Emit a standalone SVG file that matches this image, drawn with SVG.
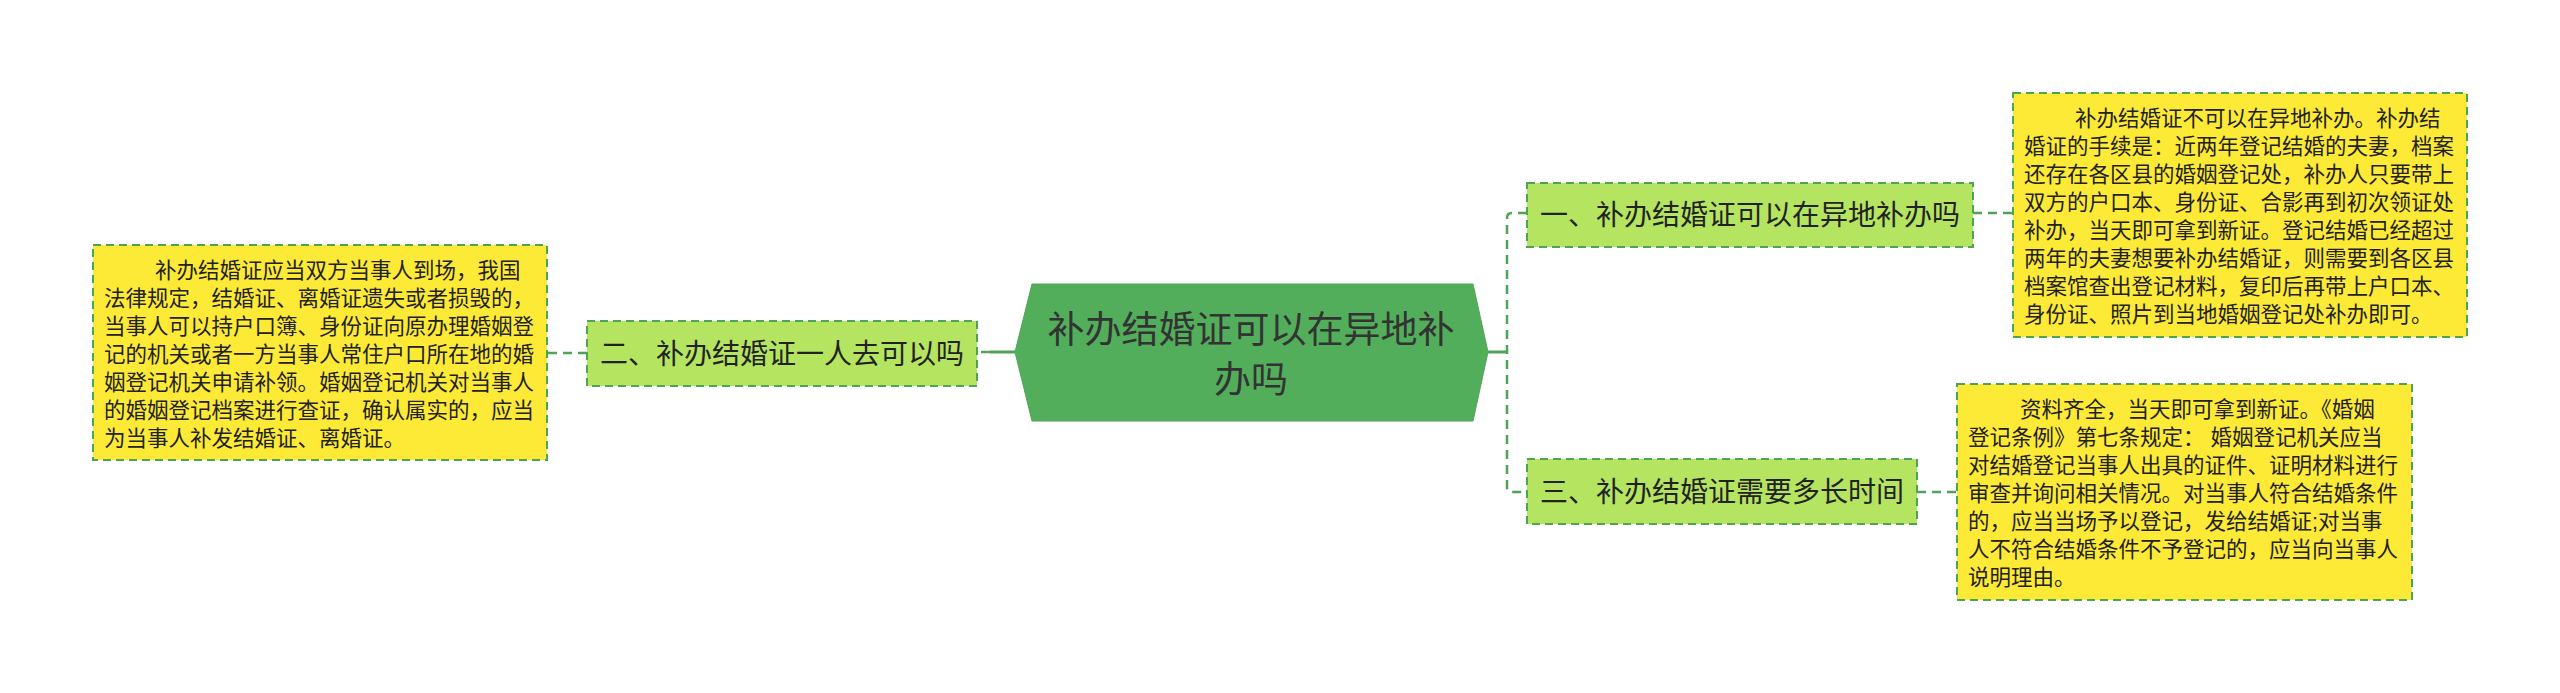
<svg xmlns="http://www.w3.org/2000/svg" width="2560" height="693" viewBox="0 0 2560 693">
<style>
.conn{fill:none;stroke:#4ea455;stroke-width:2.5;stroke-dasharray:9 6}
.solid{fill:none;stroke:#4ea455;stroke-width:3}
.branch{fill:#b5e461;stroke:#4ea455;stroke-width:2;stroke-dasharray:8 5}
.leaf{fill:#fdea36;stroke:#4ea455;stroke-width:2;stroke-dasharray:8 5}
.bt{font-family:"Liberation Sans","Noto Sans CJK SC",sans-serif;font-size:28px;fill:#222}
.lt{font-family:"Liberation Sans","Noto Sans CJK SC",sans-serif;font-size:21.5px;fill:#222}
.ct{font-family:"Liberation Sans","Noto Sans CJK SC",sans-serif;font-size:37px;fill:#333}
</style>
<rect width="2560" height="693" fill="#ffffff"/>
<g id="connectors">
<line class="solid" x1="1015" y1="352" x2="990" y2="352"/>
<line class="conn" x1="990" y1="352" x2="977" y2="352"/>
<line class="conn" x1="587" y1="353" x2="547" y2="353"/>
<line class="solid" x1="1488" y1="352" x2="1507" y2="352"/>
<path class="conn" d="M1527 213 H1512 Q1507 213 1507 218 V487 Q1507 492 1512 492 H1527"/>
<line class="conn" x1="1973" y1="213" x2="2013" y2="213"/>
<line class="conn" x1="1917" y1="492" x2="1957" y2="492"/>
</g>
<g id="center">
<polygon points="1015,352 1032,284 1473,284 1488,352 1473,421 1032,421" fill="#52ae5b" stroke="#4ea455" stroke-width="1"/>
<text class="ct" x="1251" y="343" text-anchor="middle">补办结婚证可以在异地补</text>
<text class="ct" x="1251" y="393" text-anchor="middle">办吗</text>
</g>
<g id="b2">
<rect class="branch" x="587" y="321" width="390" height="65"/>
<text class="bt" x="782" y="364" text-anchor="middle">二、补办结婚证一人去可以吗</text>
</g>
<g id="b1">
<rect class="branch" x="1527" y="183" width="446" height="64"/>
<text class="bt" x="1750" y="225" text-anchor="middle">一、补办结婚证可以在异地补办吗</text>
</g>
<g id="b3">
<rect class="branch" x="1527" y="459" width="390" height="65"/>
<text class="bt" x="1722" y="502" text-anchor="middle">三、补办结婚证需要多长时间</text>
</g>
<g id="leaf2">
<rect class="leaf" x="93" y="245" width="454" height="215"/>
<text class="lt"><tspan x="155" y="278">补办结婚证应当双方当事人到场，我国</tspan><tspan x="104" y="306">法律规定，结婚证、离婚证遗失或者损毁的，</tspan><tspan x="104" y="334">当事人可以持户口簿、身份证向原办理婚姻登</tspan><tspan x="104" y="362">记的机关或者一方当事人常住户口所在地的婚</tspan><tspan x="104" y="390">姻登记机关申请补领。婚姻登记机关对当事人</tspan><tspan x="104" y="418">的婚姻登记档案进行查证，确认属实的，应当</tspan><tspan x="104" y="446">为当事人补发结婚证、离婚证。</tspan></text>
</g>
<g id="leaf1">
<rect class="leaf" x="2013" y="93" width="454" height="244"/>
<text class="lt"><tspan x="2075" y="126">补办结婚证不可以在异地补办。补办结</tspan><tspan x="2024" y="154">婚证的手续是：近两年登记结婚的夫妻，档案</tspan><tspan x="2024" y="182">还存在各区县的婚姻登记处，补办人只要带上</tspan><tspan x="2024" y="210">双方的户口本、身份证、合影再到初次领证处</tspan><tspan x="2024" y="238">补办，当天即可拿到新证。登记结婚已经超过</tspan><tspan x="2024" y="266">两年的夫妻想要补办结婚证，则需要到各区县</tspan><tspan x="2024" y="294">档案馆查出登记材料，复印后再带上户口本、</tspan><tspan x="2024" y="322">身份证、照片到当地婚姻登记处补办即可。</tspan></text>
</g>
<g id="leaf3">
<rect class="leaf" x="1957" y="384" width="455" height="216"/>
<text class="lt"><tspan x="2020" y="417">资料齐全，当天即可拿到新证。《婚姻</tspan><tspan x="1968" y="445">登记条例》第七条规定： 婚姻登记机关应当</tspan><tspan x="1968" y="473">对结婚登记当事人出具的证件、证明材料进行</tspan><tspan x="1968" y="501">审查并询问相关情况。对当事人符合结婚条件</tspan><tspan x="1968" y="529">的，应当当场予以登记，发给结婚证;对当事</tspan><tspan x="1968" y="557">人不符合结婚条件不予登记的，应当向当事人</tspan><tspan x="1968" y="585">说明理由。</tspan></text>
</g>
</svg>
